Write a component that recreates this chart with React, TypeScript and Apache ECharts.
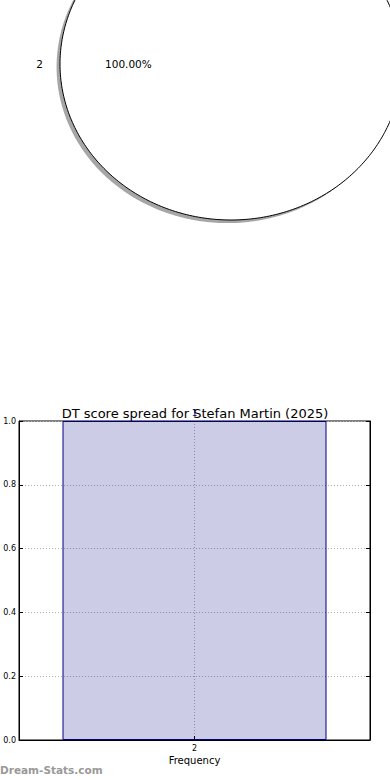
import React, { useEffect, useRef } from "react";
import * as echarts from "echarts";

// ---- data ----
const pieLabels = ["2"];
const pieValues = [1];

const barCategories = [2];
const barCounts = [1];

const yTicks = [0, 0.2, 0.4, 0.6, 0.8, 1.0];

const chartTitle = "DT score spread for Stefan Martin (2025)";
const xAxisTitle = "Frequency";
const watermark = "Dream-Stats.com";

const FONT = "DejaVu Sans";

export default function App() {
  const ref = useRef<HTMLDivElement>(null);

  useEffect(() => {
    if (!ref.current) return;
    const chart = echarts.init(ref.current, undefined, { renderer: "svg" });

    const total = pieValues.reduce((a, b) => a + b, 0);
    const starts: number[] = [];
    let acc = 0;
    pieValues.forEach((v) => {
      starts.push(acc);
      acc += v;
    });

    const wedgePoints = (api: any, i: number, ox: number, oy: number) => {
      const frac = pieValues[i] / total;
      const a1 = (starts[i] / total) * Math.PI * 2;
      const a2 = a1 + frac * Math.PI * 2;
      const pts: number[][] = [];
      const n = Math.max(8, Math.ceil(frac * 360));
      for (let k = 0; k <= n; k++) {
        const a = a1 + ((a2 - a1) * k) / n;
        pts.push(api.coord([Math.cos(a) + ox, Math.sin(a) + oy]));
      }
      if (frac < 0.9999) pts.push(api.coord([ox, oy]));
      return pts;
    };

    const option: any = {
      animation: false,
      backgroundColor: "#ffffff",
      title: {
        text: chartTitle,
        left: "center",
        top: 402,
        textStyle: { fontFamily: FONT, fontSize: 13, fontWeight: "normal", color: "#000" },
      },
      grid: [
        {
          left: 19,
          top: 421,
          width: 351,
          height: 319,
          show: true,
          borderColor: "#000",
          borderWidth: 1,
          backgroundColor: "transparent",
        },
        { left: 60, top: 0, width: 330, height: 220 },
      ],
      xAxis: [
        {
          type: "value",
          gridIndex: 0,
          min: 1.5,
          max: 2.5,
          interval: 0.5,
          name: xAxisTitle,
          nameLocation: "middle",
          nameGap: 15,
          nameTextStyle: { fontFamily: FONT, fontSize: 10, color: "#000" },
          axisLine: { show: true, lineStyle: { color: "#000", width: 1 } },
          axisTick: { show: true, inside: true, length: 4, lineStyle: { color: "#000" } },
          axisLabel: {
            fontFamily: FONT,
            fontSize: 8,
            color: "#000",
            margin: 4,
            formatter: (v: number) => (barCategories.includes(v) ? String(v) : ""),
          },
          splitLine: { show: true, lineStyle: { color: "#b0b0b0", type: [1, 2], width: 1 } },
        },
        { type: "value", gridIndex: 1, min: -1, max: 0.93, show: false },
      ],
      yAxis: [
        {
          type: "value",
          gridIndex: 0,
          min: 0,
          max: 1,
          interval: 0.2,
          axisLine: { show: true, lineStyle: { color: "#000", width: 1 } },
          axisTick: { show: true, inside: true, length: 4, lineStyle: { color: "#000" } },
          axisLabel: {
            fontFamily: FONT,
            fontSize: 8,
            color: "#000",
            margin: 3,
            formatter: (v: number) => (yTicks.some((t) => Math.abs(t - v) < 1e-9) ? v.toFixed(1) : ""),
          },
          splitLine: { show: true, lineStyle: { color: "#b0b0b0", type: [1, 2], width: 1 } },
        },
        {
          type: "value",
          gridIndex: 0,
          position: "right",
          min: 0,
          max: 1,
          interval: 0.2,
          axisLine: { show: true, lineStyle: { color: "#000", width: 1 } },
          axisTick: { show: true, inside: true, length: 4, lineStyle: { color: "#000" } },
          axisLabel: { show: false },
          splitLine: { show: false },
        },
        { type: "value", gridIndex: 1, min: -1, max: 0.41, show: false },
      ],
      series: [
        {
          type: "bar",
          xAxisIndex: 0,
          yAxisIndex: 0,
          barWidth: 264,
          data: barCategories.map((c, i) => [c, barCounts[i]]),
          itemStyle: {
            color: "rgba(0,0,128,0.2)",
            borderColor: "#000080",
            borderWidth: 1,
          },
          label: {
            show: true,
            position: "top",
            distance: 4,
            fontFamily: FONT,
            fontSize: 9,
            color: "#00008b",
            formatter: (p: any) => String(p.value[1]),
          },
          z: 1,
        },
        {
          type: "custom",
          xAxisIndex: 1,
          yAxisIndex: 2,
          clip: false,
          data: pieValues.map((v, i) => ({ name: pieLabels[i], value: [0, 0, v] })),
          renderItem: (params: any, api: any) => {
            const i = params.dataIndex;
            const frac = pieValues[i] / total;
            const a1 = (starts[i] / total) * Math.PI * 2;
            const mid = a1 + frac * Math.PI;
            const lx = 1.1 * Math.cos(mid);
            const ly = 1.1 * Math.sin(mid);
            const lp = api.coord([lx, ly]);
            const pp = api.coord([0.6 * Math.cos(mid), 0.6 * Math.sin(mid)]);
            return {
              type: "group",
              children: [
                {
                  type: "polygon",
                  shape: { points: wedgePoints(api, i, -0.02, -0.02) },
                  style: { fill: "rgba(77,77,77,0.5)", stroke: "none" },
                },
                {
                  type: "polygon",
                  shape: { points: wedgePoints(api, i, 0, 0) },
                  style: { fill: "#ffffff", stroke: "#000", lineWidth: 1 },
                },
                {
                  type: "text",
                  x: lp[0],
                  y: lp[1],
                  style: {
                    text: pieLabels[i],
                    fontFamily: FONT,
                    fontSize: 10.5,
                    fill: "#000",
                    align: lx < 0 ? "right" : "left",
                    verticalAlign: "middle",
                  },
                },
                {
                  type: "text",
                  x: pp[0],
                  y: pp[1],
                  style: {
                    text: (frac * 100).toFixed(2) + "%",
                    fontFamily: FONT,
                    fontSize: 10.5,
                    fill: "#000",
                    align: "center",
                    verticalAlign: "middle",
                  },
                },
              ],
            };
          },
        },
      ],
      graphic: [
        {
          type: "text",
          left: 0,
          top: 764,
          style: {
            text: watermark,
            fontFamily: FONT,
            fontSize: 10.5,
            fontWeight: "bold",
            fill: "#999999",
          },
        },
      ],
    };

    chart.setOption(option);
    return () => chart.dispose();
  }, []);

  return (
    <div
      ref={ref}
      style={{ position: "absolute", left: 0, top: 0, width: 390, height: 780 }}
    />
  );
}
